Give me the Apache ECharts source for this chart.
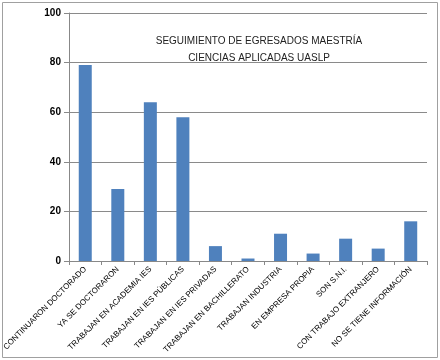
<!DOCTYPE html>
<html><head><meta charset="utf-8">
<script src="https://cdn.jsdelivr.net/npm/echarts@6/dist/echarts.min.js"></script>
<style>html,body{margin:0;padding:0;background:#fff}#c{width:440px;height:360px}</style>
</head><body><div id="c"></div>
<script>
const categories = ["CONTINUARON DOCTORADO","YA SE DOCTORARON","TRABAJAN EN ACADEMIA IES","TRABAJAN EN IES PÚBLICAS","TRABAJAN EN IES PRIVADAS","TRABAJAN EN BACHILLERATO","TRABAJAN INDUSTRIA","EN EMPRESA PROPIA","SON S.N.I.","CON TRABAJO EXTRANJERO","NO SE TIENE INFORMACIÓN"];
const values = [79,29,64,58,6,1,11,3,9,5,16];
const titleLines = ["SEGUIMIENTO DE EGRESADOS MAESTRÍA","CIENCIAS APLICADAS UASLP"];
const chart = echarts.init(document.getElementById('c'), null, {renderer:'canvas'});
chart.setOption({
  animation:false,
  title:{text:titleLines.join('\n'), left:254, top:28, textAlign:'center',
    textStyle:{fontFamily:'Liberation Sans', fontSize:10, fontWeight:'normal', color:'#222', lineHeight:17}},
  graphic:[{type:'rect', shape:{x:2.5,y:2.5,width:435,height:355}, style:{fill:'none', stroke:'#a0a0a0', lineWidth:1}}],
  grid:{left:68, right:13, top:13, bottom:99},
  xAxis:{type:'category', data:categories,
    axisLine:{lineStyle:{color:'#888'}},
    axisTick:{show:true, lineStyle:{color:'#888'}, length:4},
    axisLabel:{rotate:45, interval:0, fontFamily:'Liberation Sans', fontSize:8, color:'#000', margin:7}},
  yAxis:{type:'value', min:0, max:100, interval:20,
    axisLine:{show:true, lineStyle:{color:'#888'}},
    axisTick:{show:true, lineStyle:{color:'#888'}, length:5},
    splitLine:{lineStyle:{color:'#8a8a8a'}},
    axisLabel:{fontFamily:'Liberation Sans', fontSize:10, fontWeight:'bold', color:'#000', margin:8}},
  series:[{type:'bar', data:values, barWidth:13, itemStyle:{color:'#4f81bd'}}]
});
</script></body></html>
